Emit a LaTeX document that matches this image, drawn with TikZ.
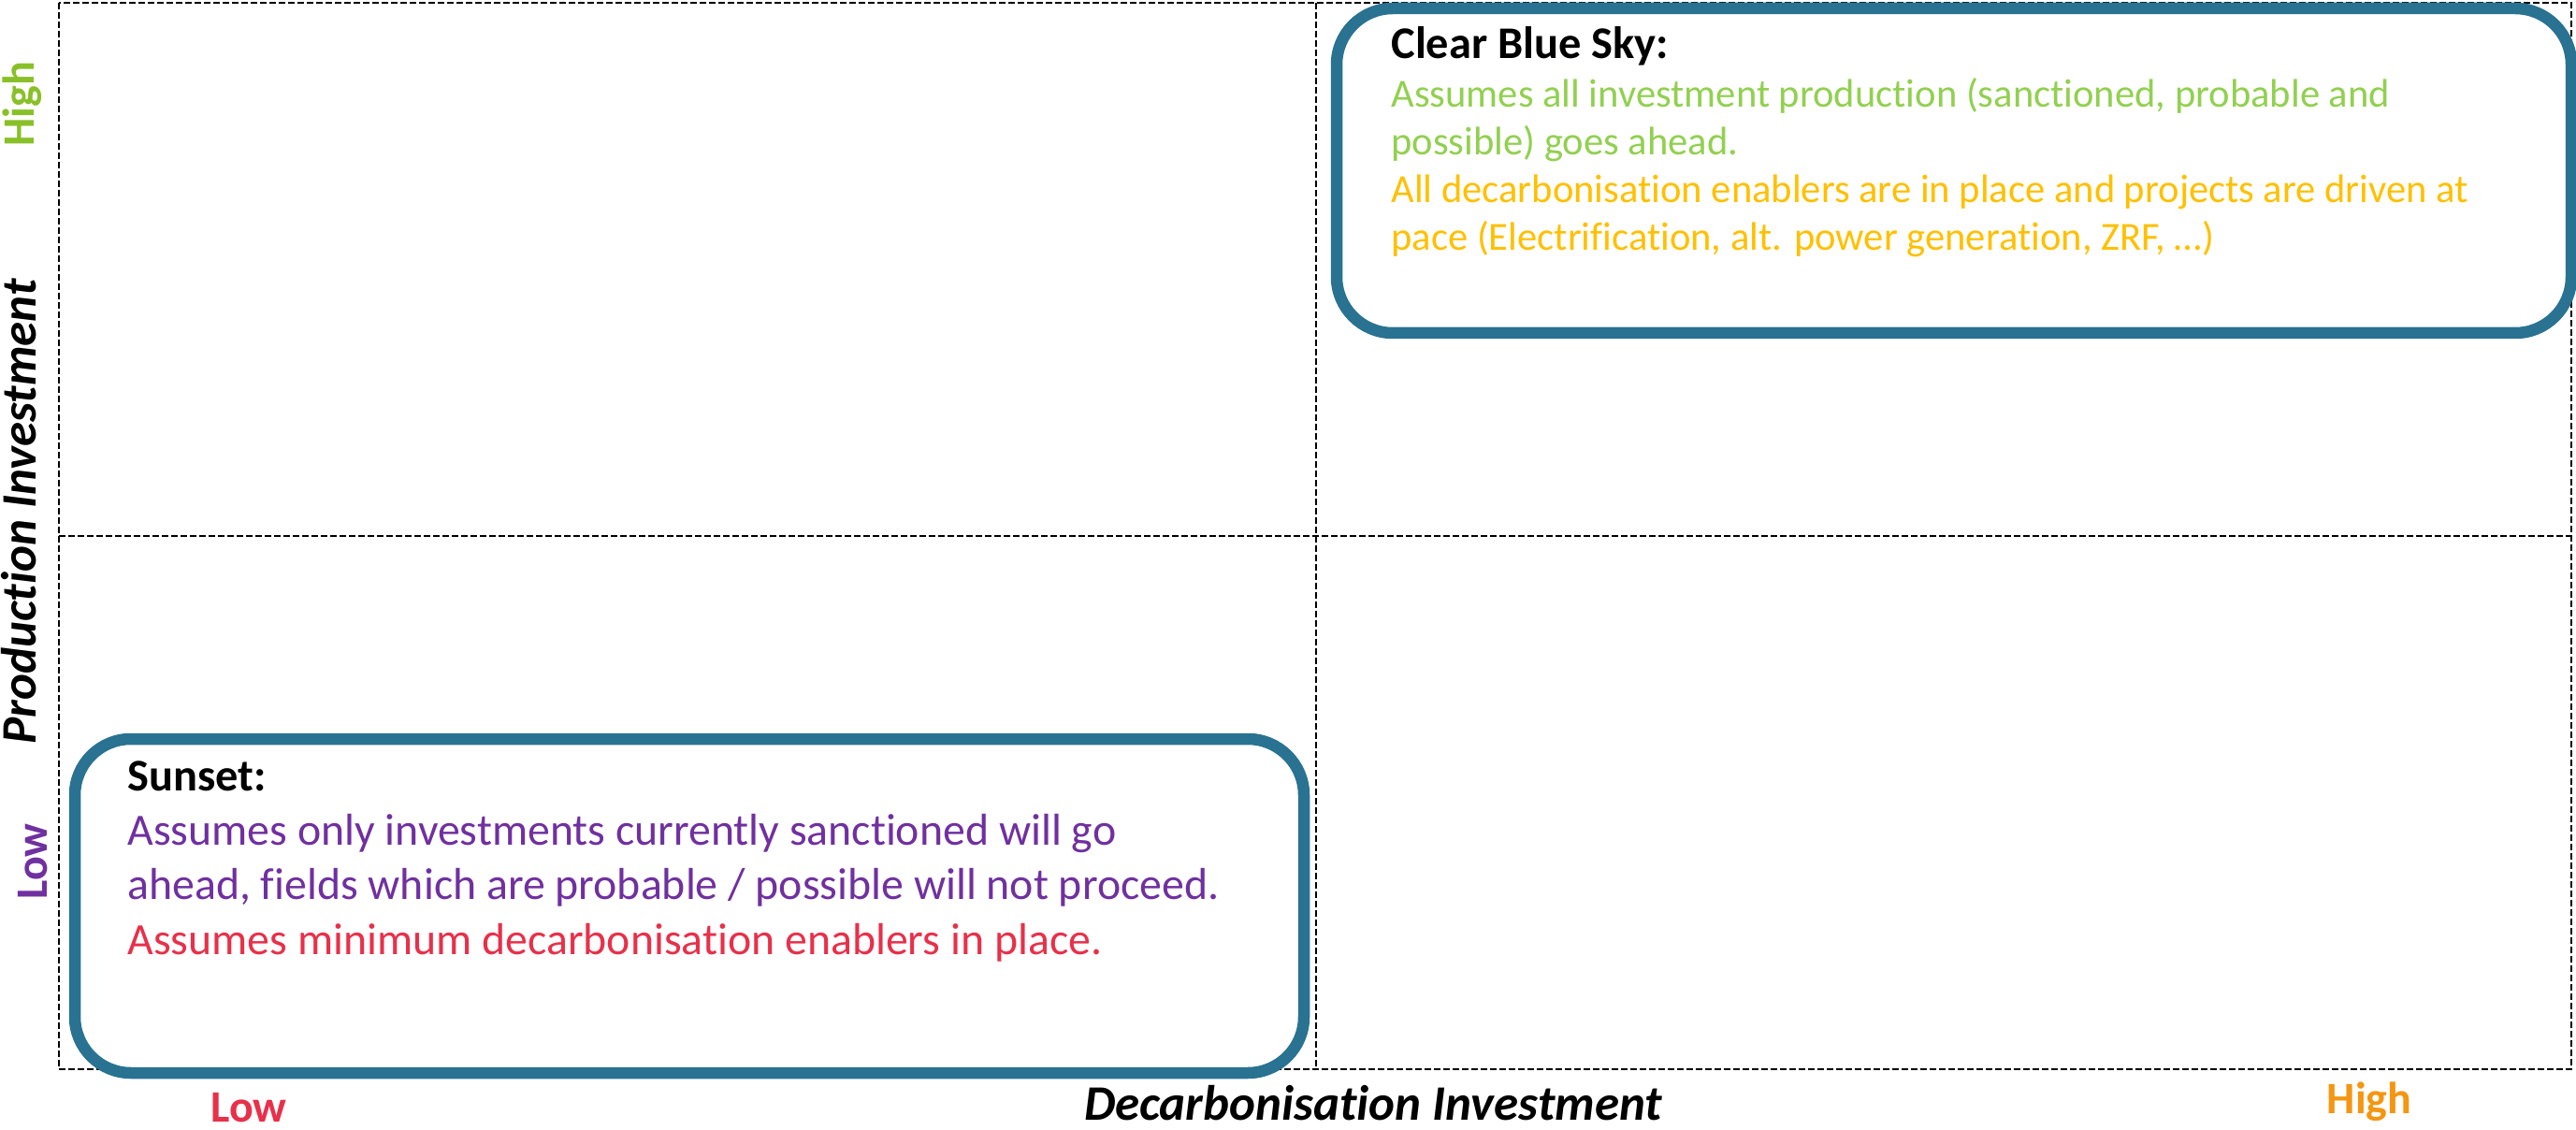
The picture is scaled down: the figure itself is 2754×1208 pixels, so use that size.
\documentclass[tikz,border=0pt]{standalone}
\usepackage{fontspec}
\setmainfont[Ligatures=NoCommon]{Carlito}
\definecolor{boxblue}{RGB}{41,114,145}
\definecolor{skygreen}{RGB}{146,208,80}
\definecolor{skygold}{RGB}{255,192,0}
\definecolor{sunpurple}{RGB}{112,48,160}
\definecolor{sunred}{RGB}{232,48,74}
\definecolor{highgreen}{RGB}{137,192,40}
\definecolor{highorange}{RGB}{244,150,18}
\begin{document}
\begin{tikzpicture}[x=0.5pt,y=0.5pt,
  gridline/.style={draw=black, line width=1.2pt, dash pattern=on 3.5pt off 1.5pt},
  scenario/.style={draw=boxblue, line width=6.25pt, rounded corners=30pt, fill=white},
  axislabel/.style={font=\fontsize{26.5}{32}\selectfont\bfseries\itshape, inner sep=0},
  levellabel/.style={font=\fontsize{24}{29}\selectfont\bfseries, inner sep=0},
  heading/.style={font=\fontsize{24.2}{29}\selectfont\bfseries, anchor=base west, inner sep=0},
  skytext/.style={font=\fontsize{21.3}{26}\selectfont, anchor=base west, inner sep=0},
  suntext/.style={font=\fontsize{23.9}{29}\selectfont, anchor=base west, inner sep=0}]
\useasboundingbox (0,0) rectangle (2754,-1208);
% quadrant grid
\draw[gridline] (63,-3) rectangle (2749,-1143);
\draw[gridline] (1407,-3) -- (1407,-1143);
\draw[gridline] (63,-573) -- (2749,-573);
% scenario boxes
\draw[scenario] (1429,-9) rectangle (2749,-356);
\draw[scenario] (80,-790) rectangle (1394,-1147);
% Clear Blue Sky text
\node[heading] (skyh) at (1487,-63) {Clear Blue Sky:};
\node[skytext, text=skygreen] (sky1) at (1487,-115) {Assumes all investment production (sanctioned, probable and};
\node[skytext, text=skygreen] (sky2) at (1487,-166) {possible) goes ahead.};
\node[skytext, text=skygold] (sky3) at (1487,-217) {All decarbonisation enablers are in place and projects are driven at};
\node[skytext, text=skygold] (sky4) at (1487,-268) {pace (Electrification, alt. power generation, ZRF, …)};
% Sunset text
\node[heading] (sunh) at (136,-845) {Sunset:};
\node[suntext, text=sunpurple] (sun1) at (136,-903) {Assumes only investments currently sanctioned will go};
\node[suntext, text=sunpurple] (sun2) at (136,-961) {ahead, fields which are probable / possible will not proceed.};
\node[suntext, text=sunred] (sun3) at (136,-1020) {Assumes minimum decarbonisation enablers in place.};
% vertical axis labels
\node[levellabel, text=highgreen, rotate=90, anchor=base] (yhigh) at (36,-111) {High};
\node[axislabel, rotate=90, anchor=base] (yaxis) at (39,-547) {Production Investment};
\node[levellabel, text=sunpurple, rotate=90, anchor=base] (ylow) at (50,-921) {Low};
% horizontal axis labels
\node[levellabel, text=sunred, anchor=base] (xlow) at (266,-1199) {Low};
\node[axislabel, anchor=base] (xaxis) at (1468,-1197) {Decarbonisation Investment};
\node[levellabel, text=highorange, anchor=base] (xhigh) at (2533,-1190) {High};
\end{tikzpicture}
\end{document}
